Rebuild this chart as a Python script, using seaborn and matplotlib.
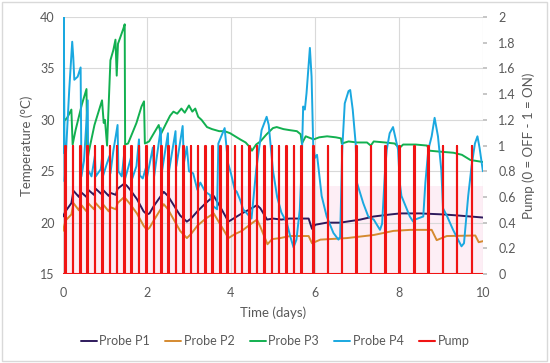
import numpy as np
import pandas as pd
import seaborn as sns
import matplotlib.pyplot as plt
from matplotlib.patches import Rectangle

# ---- data ----
p1_t = [0.0, 0.06, 0.2, 0.25, 0.38, 0.42, 0.56, 0.6, 0.74, 0.78, 0.91, 0.95, 1.09, 1.13,
        1.26, 1.3, 1.46, 1.52, 1.6, 1.76, 1.92, 2.0, 2.06, 2.16, 2.4, 2.5, 2.79, 2.95, 3.05,
        3.2, 3.4, 3.59, 3.75, 3.94, 4.1, 4.26, 4.45, 4.62, 4.7, 4.86, 5.0, 5.2, 5.4, 5.6,
        5.85, 5.93, 6.01, 6.28, 6.6, 7.08, 7.4, 7.8, 8.03, 8.5, 9.06, 9.4, 9.7, 10.0]
p1_v = [20.6, 21.1, 21.9, 23.1, 22.5, 23.0, 22.5, 23.2, 22.7, 23.3, 22.8, 23.2, 22.6, 22.9,
        22.7, 23.3, 23.8, 23.6, 23.2, 22.3, 21.1, 20.8, 20.9, 21.6, 23.0, 22.6, 20.7, 20.1, 20.4,
        21.1, 21.9, 22.6, 21.5, 20.1, 20.5, 20.9, 21.3, 21.7, 21.4, 20.3, 20.4, 20.3, 20.4, 20.4,
        20.4, 19.4, 19.8, 20.0, 20.0, 20.3, 20.6, 20.8, 20.9, 20.9, 20.8, 20.7, 20.6, 20.5]

p2_t = [0.0, 0.06, 0.2, 0.25, 0.38, 0.42, 0.56, 0.6, 0.74, 0.78, 0.91, 0.95, 1.09, 1.13,
        1.26, 1.3, 1.46, 1.52, 1.6, 1.76, 1.92, 2.0, 2.06, 2.16, 2.4, 2.5, 2.79, 2.95, 3.05,
        3.2, 3.4, 3.59, 3.75, 3.94, 4.1, 4.26, 4.45, 4.62, 4.7, 4.87, 4.98, 5.17, 5.41, 5.85,
        5.93, 6.13, 6.76, 7.4, 7.87, 8.27, 8.78, 8.9, 9.14, 9.82, 9.9, 10.0]
p2_v = [19.2, 20.2, 20.8, 21.9, 21.2, 21.8, 21.1, 21.9, 21.3, 21.9, 21.3, 21.8, 21.1, 21.5,
        21.3, 21.9, 22.5, 22.2, 21.8, 20.9, 19.7, 19.3, 19.5, 20.2, 21.8, 21.3, 19.2, 18.5, 18.9,
        19.7, 20.4, 20.9, 19.8, 18.5, 18.9, 19.2, 19.8, 20.3, 19.6, 17.9, 18.4, 18.5, 18.7, 18.7,
        18.0, 18.35, 18.5, 18.8, 19.2, 19.3, 19.3, 18.3, 18.7, 18.75, 18.1, 18.2]

p3_t = [0.0, 0.03, 0.1, 0.2, 0.23, 0.3, 0.45, 0.56, 0.58, 0.62, 0.75, 0.93, 0.97, 1.0, 1.05,
        1.13, 1.2, 1.25, 1.28, 1.31, 1.38, 1.44, 1.47, 1.48, 1.55, 1.75, 1.87, 1.93, 1.95, 2.05,
        2.15, 2.28, 2.33, 2.45, 2.55, 2.63, 2.72, 2.82, 2.9, 3.0, 3.08, 3.15, 3.22, 3.3, 3.43,
        3.55, 3.72, 3.85, 3.98, 4.1, 4.22, 4.35, 4.46, 4.5, 4.6, 4.7, 4.85, 5.0, 5.09, 5.25,
        5.4, 5.57, 5.66, 5.69, 5.78, 5.97, 6.1, 6.29, 6.5, 6.62, 6.64, 6.8, 7.0, 7.24, 7.33,
        7.4, 7.67, 7.9, 8.01, 8.1, 8.4, 8.67, 8.73, 9.0, 9.3, 9.5, 9.7, 9.85, 10.0]
p3_v = [26.8, 29.9, 30.2, 31.0, 27.6, 29.0, 31.5, 33.0, 26.0, 27.0, 29.5, 31.9, 29.7, 30.0, 27.5,
        35.8, 36.8, 37.8, 34.3, 37.4, 38.2, 38.9, 39.3, 27.6, 27.7, 29.7, 31.3, 31.8, 27.7, 27.9,
        28.6, 29.5, 28.6, 29.6, 30.4, 30.8, 30.6, 31.1, 30.7, 31.4, 30.8, 31.1, 30.3, 30.0, 29.3,
        29.1, 28.9, 28.9, 28.7, 28.4, 28.1, 27.8, 27.3, 27.0, 27.6, 27.9, 28.6, 29.2, 29.3, 29.1,
        29.0, 28.9, 28.6, 27.7, 28.4, 28.1, 28.3, 28.4, 28.3, 28.2, 27.7, 27.9, 27.8, 27.8, 27.5,
        27.9, 27.8, 27.7, 27.25, 27.6, 27.6, 27.5, 27.0, 26.9, 26.8, 26.6, 26.1, 26.0, 25.9]

p4_t = [0.0, 0.02, 0.04, 0.08, 0.15, 0.22, 0.245, 0.27, 0.35, 0.42, 0.44, 0.5, 0.59, 0.6, 0.68,
        0.76, 0.78, 0.9, 0.93, 0.95, 1.05, 1.11, 1.13, 1.2, 1.3, 1.32, 1.4, 1.46, 1.48, 1.55,
        1.63, 1.65, 1.75, 1.81, 1.83, 1.9, 1.98, 2.0, 2.14, 2.17, 2.33, 2.35, 2.5, 2.52, 2.68,
        2.7, 2.85, 2.88, 2.95, 3.0, 3.1, 3.2, 3.27, 3.39, 3.5, 3.58, 3.67, 3.7, 3.85, 3.93, 4.0,
        4.09, 4.14, 4.22, 4.29, 4.38, 4.49, 4.6, 4.73, 4.85, 4.9, 5.0, 5.1, 5.2, 5.33, 5.41,
        5.49, 5.56, 5.64, 5.68, 5.72, 5.76, 5.8, 5.88, 5.92, 5.96, 6.0, 6.05, 6.16, 6.28, 6.44,
        6.56, 6.6, 6.65, 6.71, 6.8, 6.84, 6.9, 6.97, 7.0, 7.15, 7.27, 7.4, 7.55, 7.6, 7.67, 7.71,
        7.78, 7.86, 7.93, 7.98, 8.02, 8.06, 8.26, 8.34, 8.38, 8.58, 8.63, 8.7, 8.78, 8.85, 8.93,
        9.01, 9.05, 9.15, 9.29, 9.41, 9.49, 9.55, 9.65, 9.73, 9.81, 9.87, 9.92, 10.0]
p4_v = [26.8, 40.0, 24.0, 27.5, 33.0, 37.6, 36.1, 33.9, 34.2, 35.1, 24.5, 26.0, 31.9, 25.1, 24.5,
        26.5, 24.5, 25.2, 26.3, 24.5, 25.8, 26.5, 24.8, 27.0, 29.5, 25.0, 24.5, 26.8, 24.3, 25.3,
        26.5, 24.3, 25.5, 28.1, 24.6, 24.3, 25.4, 24.4, 27.3, 24.5, 29.2, 24.8, 28.7, 24.9, 28.9,
        25.5, 29.4, 25.8, 27.4, 25.0, 24.8, 23.2, 23.9, 23.0, 22.7, 21.6, 21.3, 27.7, 29.2, 25.8, 24.8,
        23.2, 23.0, 22.2, 21.3, 20.9, 20.4, 25.1, 29.0, 30.3, 29.5, 25.1, 22.5, 21.0, 20.0, 18.7,
        17.6, 18.35, 21.3, 25.1, 31.3, 31.0, 32.6, 37.0, 34.2, 27.4, 26.3, 26.6, 22.6, 20.6, 19.0,
        18.35, 18.6, 27.1, 31.6, 32.8, 32.9, 31.0, 27.7, 23.9, 21.9, 20.6, 20.3, 19.3, 19.9, 25.1, 27.1,
        28.7, 29.3, 28.0, 27.1, 23.9, 22.6, 20.6, 20.1, 20.3, 20.6, 23.9, 27.1, 28.4, 30.2, 28.4,
        25.1, 21.4, 20.6, 19.3, 18.35, 17.7, 18.0, 22.6, 25.5, 27.7, 28.4, 27.3, 25.0]

# pump switch-on times (days); pump goes 0 -> 1 -> 0 at each one
pump_on = [0.05, 0.23, 0.41, 0.58, 0.76, 0.93, 1.11, 1.28, 1.46, 1.63, 1.81, 1.98, 2.16,
           2.34, 2.51, 2.69, 2.86, 3.04, 3.21, 3.39, 3.56, 3.74, 3.91, 4.09, 4.26, 4.44,
           4.61, 4.79, 4.97, 5.14, 5.32, 5.49, 5.67, 5.96, 6.30, 6.64, 6.98, 7.33, 7.67,
           8.01, 8.36, 8.70, 9.04, 9.38, 9.73]

# build the pump square wave from the switch-on times
pump_t, pump_v = [0.0], [0]
for p in pump_on:
    pump_t += [p, p, p + 0.012, p + 0.012]
    pump_v += [0, 1, 1, 0]
pump_t.append(10.0)
pump_v.append(0)

colors = {'Probe P1': '#2e1a5c', 'Probe P2': '#d58a30', 'Probe P3': '#12b050',
          'Probe P4': '#1aa8e0', 'Pump': '#f01414'}

sns.set_theme(style="white")
plt.rcParams['font.family'] = ['Lato', 'DejaVu Sans']

fig = plt.figure(figsize=(5.5, 3.63), dpi=100)
ax = fig.add_axes([0.1145, 0.245, 0.7635, 0.708])
ax2 = ax.twinx()

ax.axhspan(15, 23.6, color='#fdeef5', zorder=0, lw=0)

series = [('Probe P1', p1_t, p1_v), ('Probe P2', p2_t, p2_v),
          ('Probe P3', p3_t, p3_v), ('Probe P4', p4_t, p4_v)]
for name, t, v in series:
    df = pd.DataFrame({'t': t, 'v': v})
    sns.lineplot(data=df, x='t', y='v', ax=ax, color=colors[name], lw=1.4,
                 estimator=None, sort=False, label=name, legend=False)

pump_df = pd.DataFrame({'t': pump_t, 'v': pump_v})
sns.lineplot(data=pump_df, x='t', y='v', ax=ax2, color=colors['Pump'], lw=1.5,
             estimator=None, sort=False, label='Pump', legend=False)

ax.set_xlim(0, 10)
ax.set_ylim(15, 40)
ax2.set_ylim(0, 2)
ax.set_xticks([0, 2, 4, 6, 8, 10])
ax.set_yticks([15, 20, 25, 30, 35, 40])
ax2.set_yticks([0, 0.2, 0.4, 0.6, 0.8, 1, 1.2, 1.4, 1.6, 1.8, 2])
ax2.set_yticklabels(['0', '0.2', '0.4', '0.6', '0.8', '1', '1.2', '1.4', '1.6', '1.8', '2'])

ax.grid(True, color='#d9d9d9', lw=0.8)
ax.set_axisbelow(True)
for a in (ax, ax2):
    for s in a.spines.values():
        s.set_visible(False)

tc = '#595959'
ax.tick_params(axis='x', length=0, labelsize=9, labelcolor=tc, pad=9)
ax.tick_params(axis='y', length=0, labelsize=9, labelcolor=tc, pad=6)
ax2.tick_params(axis='y', length=3, color='#bfbfbf', labelsize=9, labelcolor=tc, pad=8)
ax.set_xlabel('Time (days)', fontsize=9.5, color=tc, labelpad=6)
ax.set_ylabel('Temperature (°C)', fontsize=9.5, color=tc, labelpad=5)
ax2.set_ylabel('Pump (0 = OFF - 1 = ON)', fontsize=9.5, color=tc, labelpad=5)

h1, l1 = ax.get_legend_handles_labels()
h2, l2 = ax2.get_legend_handles_labels()
fig.legend(h1 + h2, l1 + l2, loc='center', bbox_to_anchor=(0.5, 0.06), ncol=5,
           frameon=False, fontsize=9, handlelength=1.3, handletextpad=0.2,
           columnspacing=1.2, labelcolor=tc)

fig.patches.append(Rectangle((0.003, 0.005), 0.992, 0.99, transform=fig.transFigure,
                             fill=False, edgecolor='#d9d9d9', lw=1))

fig.savefig('out.png', dpi=100)
